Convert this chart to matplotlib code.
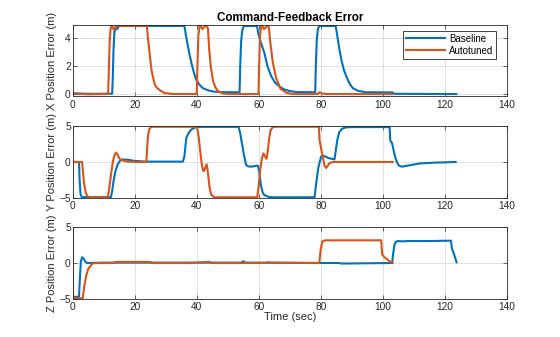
import matplotlib
matplotlib.use('Agg')
import matplotlib.pyplot as plt

plt.rcParams['font.family'] = ['Liberation Sans', 'DejaVu Sans']

# X 位置误差 (time, value)
xb_t = [0, 6, 12.7, 12.9, 13.1, 13.4, 13.8, 14.3, 14.8, 15.5,
        36.0, 36.5, 37.0, 37.6, 38.3, 39.0, 39.8, 40.8, 41.9, 43.5, 45.2, 48,
        53.8, 54.0, 54.3, 54.7, 55.2,
        59.4, 60.0, 60.8, 61.8, 62.8, 64.0, 65.2, 66.7, 68.2, 69.9, 72,
        78.2, 78.4, 78.7, 79.1, 79.6,
        84.8, 85.3, 86.0, 86.8, 87.5, 88.2, 89.2, 90.3, 92.0, 94.6,
        103.2, 103.5, 123.7]
xb_v = [0.06, 0.04, 0.05, 1.2, 3.0, 4.4, 4.7, 4.65, 4.85, 4.88,
        4.88, 4.2, 3.6, 2.9, 2.2, 1.6, 1.05, 0.7, 0.45, 0.3, 0.2, 0.16,
        0.15, 2.0, 3.8, 4.6, 4.88,
        4.88, 4.2, 3.6, 2.95, 2.0, 1.3, 0.85, 0.55, 0.35, 0.24, 0.17,
        0.15, 2.0, 3.9, 4.7, 4.88,
        4.88, 4.2, 3.2, 2.3, 1.7, 1.3, 0.8, 0.45, 0.25, 0.15,
        0.14, 0.04, 0.02]

xa_t = [0, 5, 11.4, 11.6, 11.9, 12.2, 12.6, 13.2, 13.7, 14.2,
        23.9, 24.3, 24.8, 25.4, 26.0, 26.5, 27.2, 28.1, 29.5, 32,
        40.0, 40.2, 40.5, 40.9, 41.3, 41.8, 42.4, 43.0, 43.6, 44.0, 44.5, 45.2, 46.0, 47.0, 48.5, 51,
        59.9, 60.1, 60.4, 60.8, 61.2, 61.7, 62.3, 62.9, 63.3, 63.6, 64.5, 65.6, 67.0, 69.0, 71,
        79.0, 79.6, 80.5, 82, 103.2]
xa_v = [0.08, 0.0, 0.03, 1.5, 3.8, 4.7, 4.95, 4.6, 4.8, 4.88,
        4.88, 3.9, 2.9, 1.7, 1.1, 0.66, 0.45, 0.3, 0.1, 0.03,
        0.02, 2.0, 4.2, 4.9, 4.85, 4.65, 4.8, 4.92, 4.7, 3.2, 2.0, 1.0, 0.5, 0.2, 0.06, 0.02,
        0.02, 2.0, 4.2, 4.9, 4.85, 4.65, 4.8, 4.92, 4.7, 3.9, 2.3, 1.16, 0.4, 0.1, 0.02,
        0.02, 0.15, 0.05, 0.02, 0.02]

# Y 位置误差
yb_t = [0, 2.0, 2.2, 2.5, 2.9, 12.3, 12.7, 13.2, 13.8, 14.5, 15.3, 16, 18, 20, 24, 35.5,
        36.0, 36.6, 37.2, 37.8, 38.4, 39.0, 39.8, 41,
        53.5, 54.0, 54.6, 55.2, 55.9, 56.5, 57.5, 59.7, 60.2, 60.7, 61.3, 61.8, 63.3, 64.5,
        78.0, 78.5, 79.2, 80.1, 81, 82.5, 84.4, 84.8, 85.3, 85.9, 86.8, 88, 90,
        102.2, 102.4, 103.0, 103.8, 104.5, 105.2, 106.2, 108, 112, 116, 123.5]
yb_v = [0, 0, -2.5, -4.5, -4.88, -4.88, -4.0, -2.5, -1.2, -0.3, 0.2, 0.35, 0.3, 0.15, 0.05, 0.05,
        0.8, 3.3, 3.9, 4.3, 4.55, 4.7, 4.85, 4.88,
        4.88, 4.0, 2.5, 1.0, -0.4, -0.6, -0.65, -0.5, -1.5, -3.3, -4.3, -4.6, -4.85, -4.9,
        -4.9, -3.0, -0.8, 0.75, 0.85, 0.55, 0.35, 1.5, 3.0, 4.1, 4.6, 4.8, 4.85,
        4.85, 3.0, 2.6, 1.0, 0.0, -0.5, -0.65, -0.5, -0.2, -0.1, 0.0]

ya_t = [0, 3.0, 3.3, 3.7, 4.2, 4.8, 5.5, 11.3, 11.8, 12.4, 13.0, 13.5, 13.9, 14.4, 15.0, 15.6, 17, 20,
        23.7, 24.0, 24.3, 24.7, 25.3, 26,
        40.1, 40.6, 41.1, 41.6, 42.0, 42.3, 42.7, 43.2, 43.6, 44.1, 44.6, 45.5,
        59.5, 59.9, 60.5, 61.0, 61.5, 62.0, 62.5, 62.9, 63.3, 63.8, 64.5, 65.5,
        79.4, 79.6, 80.5, 81.2, 81.7, 82.3, 82.8, 84, 103.2]
ya_v = [0, 0, -1.5, -3.2, -4.3, -4.8, -4.9, -4.9, -3.5, -1.5, 0.2, 1.0, 1.3, 1.1, 0.5, 0.3, 0.1, 0.0,
        0.0, 2.0, 3.8, 4.6, 4.85, 4.9,
        4.9, 3.5, 1.5, -0.3, -1.2, -1.25, -0.8, -0.33, -1.5, -3.5, -4.5, -4.9,
        -4.9, -3.5, -1.0, 0.5, 1.2, 0.8, 0.45, 1.5, 3.2, 4.4, 4.85, 4.9,
        4.9, 3.0, 1.0, -0.5, -0.83, -0.5, -0.15, 0.0, 0.0]

# Z 位置误差
zb_t = [0, 0.05, 2.0, 2.3, 2.6, 3.0, 3.5, 4.0, 4.6, 10, 25, 54.5, 55, 55.6, 78, 86, 86.5,
        103.0, 103.4, 103.8, 104.2, 105, 106.5, 108, 115, 122.0, 122.3, 123.0, 123.8]
zb_v = [5, -4.7, -4.7, -2.0, 0.2, 0.8, 0.6, 0.2, 0.0, 0.05, 0.05, 0.05, 0.25, 0.05, 0.0, 0.0, -0.08,
        0.0, 1.5, 2.6, 2.95, 3.05, 3.0, 3.05, 3.05, 3.1, 2.0, 1.2, 0.1]

za_t = [0, 0.02, 3.2, 3.6, 4.3, 5.0, 6.4, 8, 13, 14, 25, 25.5, 38, 42, 44, 45, 62, 63, 64,
        79.5, 80.0, 80.5, 81.5, 99.5, 99.8, 100.5, 102, 103.2]
za_v = [5, -4.9, -4.9, -3.5, -1.8, -0.8, -0.05, 0.0, 0.0, 0.15, 0.15, 0.0, 0.0, 0.1, 0.15, 0.0, 0.0, 0.1, 0.05,
        0.0, 2.0, 3.0, 3.15, 3.15, 1.2, 0.8, 0.3, 0.0]

labels = ['Baseline', 'Autotuned']
ylabels = ['X Position Error (m)', 'Y Position Error (m)', 'Z Position Error (m)']
xticks = [0, 20, 40, 60, 80, 100, 120, 140]

blue = '#0072BD'
orange = '#D95319'
dark = '#262626'

fig = plt.figure(figsize=(5.6, 3.37), dpi=100)
positions = [[0.13, 0.715, 0.775, 0.211],
             [0.13, 0.4125, 0.775, 0.2136],
             [0.13, 0.1128, 0.775, 0.2136]]
series = [(xb_t, xb_v, xa_t, xa_v), (yb_t, yb_v, ya_t, ya_v), (zb_t, zb_v, za_t, za_v)]
ylims = [(-0.12, 4.95), (-5, 5), (-5, 5)]
yticks = [[0, 2, 4], [-5, 0, 5], [-5, 0, 5]]

axes = []
for i in range(3):
    ax = fig.add_axes(positions[i])
    bt, bv, at, av = series[i]
    ax.plot(bt, bv, color=blue, lw=1.5, label=labels[0])
    ax.plot(at, av, color=orange, lw=1.5, label=labels[1])
    ax.set_xlim(0, 140)
    ax.set_ylim(*ylims[i])
    ax.set_xticks(xticks)
    ax.set_yticks(yticks[i])
    ax.grid(True, color='#dcdcdc', lw=0.6)
    ax.set_axisbelow(True)
    for s in ax.spines.values():
        s.set_color(dark)
        s.set_linewidth(0.6)
    ax.tick_params(direction='in', length=3, width=0.5, colors=dark,
                   labelsize=7.3, top=True, right=True, pad=2.5)
    ax.tick_params(axis='y', pad=1.5)
    ax.set_ylabel(ylabels[i], fontsize=8, color=dark)
    ax.yaxis.set_label_coords(-0.036, 0.5)
    axes.append(ax)

axes[0].set_title('Command-Feedback Error', fontsize=8.4, fontweight='bold', color='black', pad=3)
axes[2].set_xlabel('Time (sec)', fontsize=8, color=dark, labelpad=0)

leg = axes[0].legend(loc='upper right', bbox_to_anchor=(0.975, 0.915), borderaxespad=0,
                     fontsize=7, handlelength=4.0, fancybox=False, framealpha=1,
                     edgecolor=dark, borderpad=0.3, labelspacing=0.2, handletextpad=0.4)
leg.get_frame().set_linewidth(0.6)

fig.savefig('out.png', dpi=100)
